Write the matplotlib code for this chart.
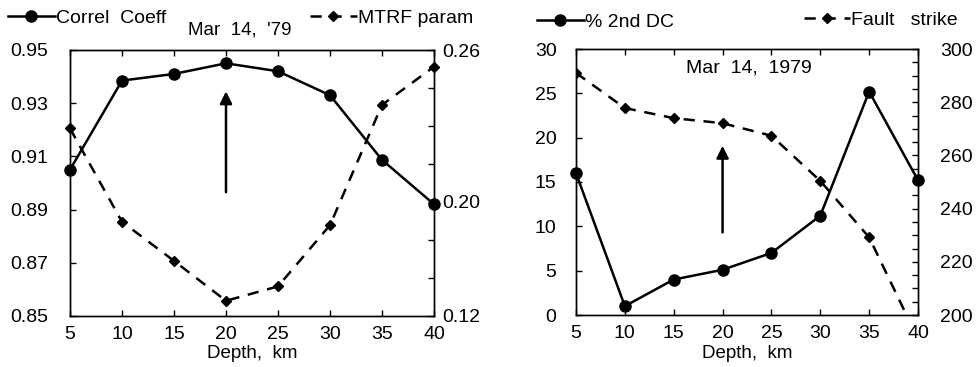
import numpy as np
import matplotlib
matplotlib.use('Agg')
import matplotlib.pyplot as plt
from matplotlib.ticker import MultipleLocator

plt.rcParams['font.family'] = ['Liberation Sans', 'DejaVu Sans']
plt.rcParams['font.size'] = 14

depth = [5, 10, 15, 20, 25, 30, 35, 40]
# left panel
correl = [0.905, 0.9385, 0.941, 0.945, 0.942, 0.933, 0.9087, 0.892]
mtrf = [0.2187, 0.1696, 0.149, 0.128, 0.1356, 0.1678, 0.2311, 0.2512]
# right panel
second_dc = [16.0, 1.0, 4.0, 5.1, 7.0, 11.2, 25.2, 15.2]
strike = [291, 277.8, 274, 272.1, 267.4, 250.4, 229.2, 191]

W, H = 979, 367
fig = plt.figure(figsize=(W / 100, H / 100), dpi=100)


def style_axes(ax, ax2, lpad, rpad):
    ax.set_xlim(5, 40)
    ax.set_xticks(depth)
    ax.tick_params(axis='x', direction='in', top=True, length=4, width=1, labelsize=14, pad=7)
    ax.tick_params(axis='y', direction='in', length=4, width=1, labelsize=14, pad=lpad)
    ax2.tick_params(direction='in', length=4, width=1, labelsize=14, pad=rpad)
    ax.set_xlabel('Depth,  km', fontsize=13.5, labelpad=2)
    for a in (ax, ax2):
        for s in a.spines.values():
            s.set_linewidth(1.0)


def put_legend(ax, handle, text, x, y, loc):
    ax.legend([handle], [text], loc=loc, bbox_to_anchor=(x / W, 1 - y / H),
              bbox_transform=fig.transFigure, frameon=False, fontsize=14,
              handlelength=2.4, handletextpad=0.05, borderaxespad=0, borderpad=0)


# ---- left panel
ax1 = fig.add_axes([70 / W, 1 - 316 / H, 364 / W, 266 / H])
ax1b = ax1.twinx()
l1, = ax1.plot(depth, correl, 'k-o', lw=1.8, ms=8, clip_on=False)
l2, = ax1b.plot(depth, mtrf, 'k--D', lw=1.8, ms=5, dashes=(4.5, 3.5), clip_on=False)
ax1.set_ylim(0.85, 0.95)
ax1.set_yticks([0.85, 0.87, 0.89, 0.91, 0.93, 0.95])
ax1.set_yticklabels(['0.85', '0.87', '0.89', '0.91', '0.93', '0.95'])
ax1b.set_ylim(0.12, 0.26)
ax1b.set_yticks(np.arange(0.12, 0.2601, 0.02))
ax1b.set_yticklabels(['0.12', '', '', '0.20', '', '', '', '0.26'])
style_axes(ax1, ax1b, 16, 6)
ax1.annotate('', xy=(20, 0.9355), xytext=(20, 0.8955),
             arrowprops=dict(arrowstyle='-|>', color='k', lw=1.8, mutation_scale=18))
ax1.text(240 / W, 1 - 30 / H, "Mar  14,  '79", transform=fig.transFigure,
         ha='center', va='center', fontsize=13.5)
put_legend(ax1, l1, 'Correl  Coeff', 8, 18, 'center left')
put_legend(ax1b, l2, 'MTRF param', 473, 18, 'center right')

# ---- right panel
ax2 = fig.add_axes([576 / W, 1 - 315 / H, 342 / W, 266 / H])
ax2b = ax2.twinx()
r1, = ax2.plot(depth, second_dc, 'k-o', lw=1.8, ms=8, clip_on=False, zorder=3)
r2, = ax2b.plot(depth, strike, 'k--D', lw=1.8, ms=5, dashes=(4.5, 3.5))
ax2.set_ylim(0, 30)
ax2.set_yticks(np.arange(0, 31, 5))
ax2b.set_ylim(200, 300)
ax2b.set_yticks(np.arange(200, 301, 20))
ax2b.yaxis.set_minor_locator(MultipleLocator(5))
ax2b.tick_params(which='minor', direction='in', length=4, width=1)
style_axes(ax2, ax2b, 14, 16)
ax2.annotate('', xy=(20, 19.4), xytext=(20, 9.0),
             arrowprops=dict(arrowstyle='-|>', color='k', lw=1.8, mutation_scale=18))
ax2.text(0.505, 0.93, 'Mar  14,  1979', transform=ax2.transAxes,
         ha='center', va='center', fontsize=14)
put_legend(ax2, r1, '% 2nd DC', 537, 22, 'center left')
put_legend(ax2b, r2, 'Fault   strike', 958, 20, 'center right')

fig.savefig('out.png', dpi=100)
